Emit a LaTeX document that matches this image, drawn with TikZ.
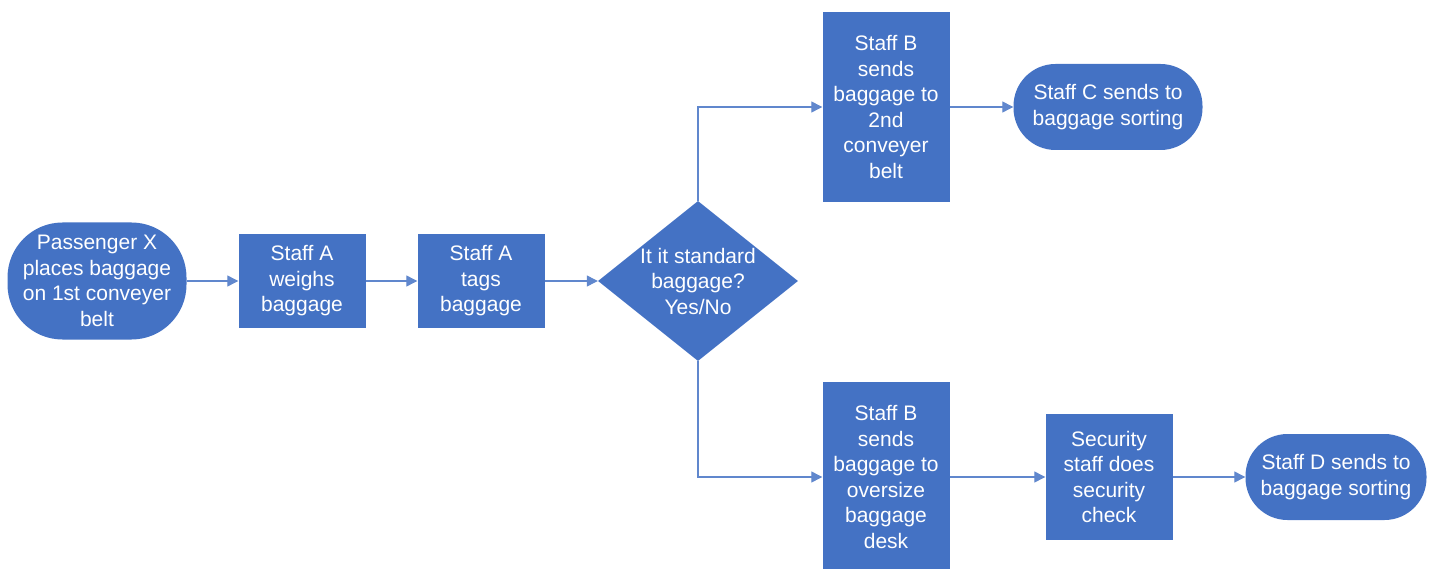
\documentclass[tikz,border=0pt]{standalone}
\usepackage{fontspec}
\setmainfont{Liberation Sans}
\usetikzlibrary{shapes.geometric,arrows.meta}
\definecolor{boxblue}{HTML}{4472C4}
\begin{document}
\begin{tikzpicture}[x=1pt,y=-1pt,
  base/.style={fill=boxblue,draw=none,text=white,align=center,inner sep=0pt,
    font=\fontsize{21}{25.5}\selectfont},
  procbox/.style={base,rectangle,minimum width=127pt},
  decbox/.style={base,diamond,minimum width=200pt,minimum height=160pt,aspect=1.25},
  conn/.style={draw=boxblue!85!white,line width=1.2pt,-{Triangle[length=11pt,width=11pt]}}]
\useasboundingbox (0,0) rectangle (1431,569);
\node[base,rectangle,rounded corners=55pt,minimum width=179pt,minimum height=117pt] (pass) at (97,281) {Passenger X\\places baggage\\on 1st conveyer\\belt};
\node[procbox,minimum height=94pt] (weigh) at (302,281) {Staff A\\weighs\\baggage};
\node[procbox,minimum height=94pt] (tag) at (481,281) {Staff A\\tags\\baggage};
\node[decbox] (dec) at (698,281) {};
\node[base,fill=none] (dectext) at (698,281) {It it standard\\baggage?\\Yes/No};
\node[procbox,minimum height=190pt] (b1) at (886,107) {Staff B\\sends\\baggage to\\2nd\\conveyer\\belt};
\node[base,rectangle,rounded corners=42pt,minimum width=189pt,minimum height=86pt] (c) at (1108,107) {Staff C sends to\\baggage sorting};
\node[procbox,minimum height=190pt] (b2) at (886,477) {Staff B\\sends\\baggage to\\oversize\\baggage\\desk};
\node[procbox,minimum height=126pt] (sec) at (1109,477) {Security\\staff does\\security\\check};
\node[base,rectangle,rounded corners=42pt,minimum width=181pt,minimum height=86pt] (d) at (1336,477) {Staff D sends to\\baggage sorting};
\draw[conn] (pass) -- (weigh);
\draw[conn] (weigh) -- (tag);
\draw[conn] (tag) -- (dec);
\draw[conn] (dec.north) |- (b1.west);
\draw[conn] (dec.south) |- (b2.west);
\draw[conn] (b1) -- (c);
\draw[conn] (b2) -- (sec);
\draw[conn] (sec) -- (d);
\end{tikzpicture}
\end{document}
